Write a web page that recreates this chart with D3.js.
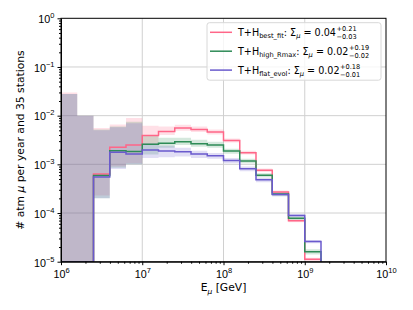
<!DOCTYPE html>
<html>
<head>
<meta charset="utf-8">
<script src="https://cdn.jsdelivr.net/npm/d3@7"></script>
<style>
  body { margin: 0; background: #fff; }
  svg { font-family: "DejaVu Sans", sans-serif; }
</style>
</head>
<body>
<svg id="chart" width="413" height="310"></svg>
<script>
// bin edges: 5 log bins per decade from 1e6 to 10^9.2
const binExp = d3.range(0, 17).map(i => 6 + 0.2 * i);

// central values per bin
const bestFit  = [0, 0, 6.3e-4, 2.24e-3, 2.5e-3, 3.9e-3, 4.7e-3, 5.6e-3, 5.2e-3, 4.6e-3, 3.1e-3, 1.73e-3, 7.6e-4, 2.7e-4, 6.9e-5, 1.12e-5];
const highRmax = [0, 0, 5.9e-4, 1.9e-3, 1.83e-3, 2.58e-3, 2.7e-3, 2.9e-3, 2.65e-3, 2.5e-3, 1.87e-3, 1.17e-3, 6.0e-4, 2.45e-4, 7.8e-5, 1.6e-5];
const flatEvol = [0, 0, 5.5e-4, 1.78e-3, 1.63e-3, 1.97e-3, 1.88e-3, 1.82e-3, 1.63e-3, 1.5e-3, 1.2e-3, 8.1e-4, 4.8e-4, 2.4e-4, 8.9e-5, 2.6e-5];

// uncertainty bands
const bestFitHi  = [3.0e-2, 1.0e-2, 5.6e-3, 6.6e-3, 9.0e-3, 6.2e-3, 6.0e-3, 6.5e-3, 6.0e-3, 5.2e-3, 3.4e-3, 1.9e-3, 8.2e-4, 2.9e-4, 7.4e-5, 1.2e-5];
const bestFitLo  = [0, 0, 2.3e-4, 9e-4, 1.05e-3, 2.6e-3, 4.0e-3, 4.9e-3, 4.6e-3, 4.1e-3, 2.8e-3, 1.6e-3, 7.0e-4, 2.5e-4, 6.5e-5, 1.0e-5];
const highRmaxHi = [2.8e-2, 1.0e-2, 5.2e-3, 6.0e-3, 7.5e-3, 4.0e-3, 3.5e-3, 3.5e-3, 3.2e-3, 2.9e-3, 2.1e-3, 1.3e-3, 6.6e-4, 2.7e-4, 8.4e-5, 1.8e-5];
const highRmaxLo = [0, 0, 2.0e-4, 8.5e-4, 1.0e-3, 1.6e-3, 2.2e-3, 2.5e-3, 2.3e-3, 2.2e-3, 1.65e-3, 1.05e-3, 5.4e-4, 2.2e-4, 7.0e-5, 1.4e-5];
const flatEvolHi = [2.8e-2, 1.0e-2, 5.0e-3, 5.8e-3, 7.0e-3, 2.7e-3, 2.4e-3, 2.2e-3, 1.9e-3, 1.7e-3, 1.35e-3, 9.0e-4, 5.3e-4, 2.6e-4, 9.6e-5, 2.8e-5];
const flatEvolLo = [0, 0, 2.0e-4, 8.0e-4, 1.0e-3, 1.35e-3, 1.4e-3, 1.45e-3, 1.35e-3, 1.3e-3, 1.05e-3, 7.2e-4, 4.3e-4, 2.2e-4, 8.2e-5, 2.4e-5];

const seriesNames = ['best_fit', 'high_Rmax', 'flat_evol'];
const sumValues = ['0.04', '0.02', '0.02'];
const sumUp = ['+0.21', '+0.19', '+0.18'];
const sumDown = ['\u22120.03', '\u22120.02', '\u22120.01'];
const colors = ['#ff6688', '#2e8b57', '#6a5acd'];

const xTickExp = [6, 7, 8, 9, 10];
const yTickExp = [0, -1, -2, -3, -4, -5];

const series = [
  { name: seriesNames[0], val: bestFit, lo: bestFitLo, hi: bestFitHi },
  { name: seriesNames[1], val: highRmax, lo: highRmaxLo, hi: highRmaxHi },
  { name: seriesNames[2], val: flatEvol, lo: flatEvolLo, hi: flatEvolHi },
];

const svg = d3.select('#chart');
const m = { left: 61, right: 386, top: 18.3, bottom: 261.7 };

const x = d3.scaleLog().domain([1e6, 1e10]).range([m.left, m.right]);
const y = d3.scaleLog().domain([1e-5, 1]).range([m.bottom, m.top]).clamp(true);

// grid
const grid = svg.append('g').attr('stroke', '#d0d0d0').attr('stroke-width', 1);
xTickExp.slice(1, -1).forEach(e => {
  grid.append('line').attr('x1', x(10 ** e)).attr('x2', x(10 ** e)).attr('y1', m.top).attr('y2', m.bottom);
});
yTickExp.slice(1, -1).forEach(e => {
  grid.append('line').attr('y1', y(10 ** e)).attr('y2', y(10 ** e)).attr('x1', m.left).attr('x2', m.right);
});

svg.append('clipPath').attr('id', 'clip')
  .append('rect').attr('x', m.left).attr('y', m.top).attr('width', m.right - m.left).attr('height', m.bottom - m.top);

const plot = svg.append('g').attr('clip-path', 'url(#clip)');

const floor = v => Math.max(v, 1e-5);

function stepPoints(vals) {
  const pts = [];
  vals.forEach((v, i) => {
    pts.push([10 ** binExp[i], floor(v)]);
    pts.push([10 ** binExp[i + 1], floor(v)]);
  });
  pts.push([10 ** binExp[vals.length], 1e-5]);
  return pts;
}

const line = d3.line().x(d => x(d[0])).y(d => y(d[1]));
const area = d3.area().x(d => x(d[0])).y0(d => y(d[1])).y1(d => y(d[2]));

series.forEach((s, k) => {
  const pts = [];
  s.hi.forEach((h, i) => {
    pts.push([10 ** binExp[i], floor(s.lo[i]), h]);
    pts.push([10 ** binExp[i + 1], floor(s.lo[i]), h]);
  });
  plot.append('path').attr('d', area(pts))
    .attr('fill', colors[k]).attr('fill-opacity', 0.2);
});

series.forEach((s, k) => {
  plot.append('path').attr('d', line(stepPoints(s.val)))
    .attr('fill', 'none').attr('stroke', colors[k]).attr('stroke-width', 1.5);
});

// axes
function powLabel(sel, e) {
  sel.text(null);
  sel.append('tspan').text('10');
  sel.append('tspan').attr('dy', -5).attr('font-size', 7.5).text(e < 0 ? '\u2212' + (-e) : e);
}

const minorX = [];
for (let e = 6; e < 10; e++) for (let k = 2; k < 10; k++) minorX.push(k * 10 ** e);
const minorY = [];
for (let e = -5; e < 0; e++) for (let k = 2; k < 10; k++) minorY.push(k * 10 ** e);

const xAxis = svg.append('g').attr('transform', `translate(0,${m.bottom})`)
  .call(d3.axisBottom(x).tickValues(xTickExp.map(e => 10 ** e)).tickSize(3.5).tickPadding(3).tickSizeOuter(0));
xAxis.selectAll('.tick text').attr('font-size', 10.75).attr('fill', '#000').each(function(d, i) { powLabel(d3.select(this), xTickExp[i]); })
  .attr('dy', '0.95em');
svg.append('g').attr('transform', `translate(0,${m.bottom})`)
  .call(d3.axisBottom(x).tickValues(minorX).tickSize(2).tickFormat('').tickSizeOuter(0))
  .select('.domain').remove();

const yAxis = svg.append('g').attr('transform', `translate(${m.left},0)`)
  .call(d3.axisLeft(y).tickValues(yTickExp.map(e => 10 ** e)).tickSize(3.5).tickPadding(3).tickSizeOuter(0));
yAxis.selectAll('.tick text').attr('font-size', 10.75).attr('fill', '#000').each(function(d, i) { powLabel(d3.select(this), yTickExp[i]); })
  .attr('dy', '0.4em');
svg.append('g').attr('transform', `translate(${m.left},0)`)
  .call(d3.axisLeft(y).tickValues(minorY).tickSize(2).tickFormat('').tickSizeOuter(0))
  .select('.domain').remove();

svg.selectAll('.domain').attr('stroke', '#000');
// frame
svg.append('rect').attr('x', m.left).attr('y', m.top).attr('width', m.right - m.left).attr('height', m.bottom - m.top)
  .attr('fill', 'none').attr('stroke', '#000').attr('stroke-width', 1);

// axis labels
const xl = svg.append('text').attr('x', (m.left + m.right) / 2).attr('y', 291)
  .attr('text-anchor', 'middle').attr('font-size', 10.75);
xl.append('tspan').text('E');
xl.append('tspan').attr('dy', 2.5).attr('font-size', 7.5).attr('font-style', 'italic').text('\u03bc');
xl.append('tspan').attr('dy', -2.5).text(' [GeV]');

const yl = svg.append('text').attr('transform', `translate(24,${(m.top + m.bottom) / 2}) rotate(-90)`)
  .attr('text-anchor', 'middle').attr('font-size', 10.75);
yl.append('tspan').text('# atm ');
yl.append('tspan').attr('font-style', 'italic').text('\u03bc');
yl.append('tspan').text(' per year and 35 stations');

// legend
const lg = svg.append('g');
lg.append('rect').attr('x', 207).attr('y', 22.7).attr('width', 174).attr('height', 57.5).attr('rx', 2.5)
  .attr('fill', '#fff').attr('fill-opacity', 0.8).attr('stroke', '#d8d8d8').attr('stroke-width', 1);

seriesNames.forEach((name, k) => {
  const cy = 32.3 + k * 18.9;
  lg.append('line').attr('x1', 210).attr('x2', 232).attr('y1', cy).attr('y2', cy)
    .attr('stroke', colors[k]).attr('stroke-width', 1.5);
  const t = lg.append('text').attr('x', 238).attr('y', cy + 3.5).attr('font-size', 9.6);
  t.append('tspan').text('T+H');
  t.append('tspan').attr('dy', 2).attr('font-size', 6.7).text(name);
  t.append('tspan').attr('dy', -2).text(': \u03a3');
  t.append('tspan').attr('dy', 2).attr('font-size', 6.7).attr('font-style', 'italic').text('\u03bc');
  t.append('tspan').attr('dy', -2).text(' = ' + sumValues[k]);
  const w = t.node().getComputedTextLength();
  lg.append('text').attr('x', 238 + w + 0.5).attr('y', cy - 1.3).attr('font-size', 6.6).text(sumUp[k]);
  lg.append('text').attr('x', 238 + w + 0.5).attr('y', cy + 6.6).attr('font-size', 6.6).text(sumDown[k]);
});
</script>
</body>
</html>
